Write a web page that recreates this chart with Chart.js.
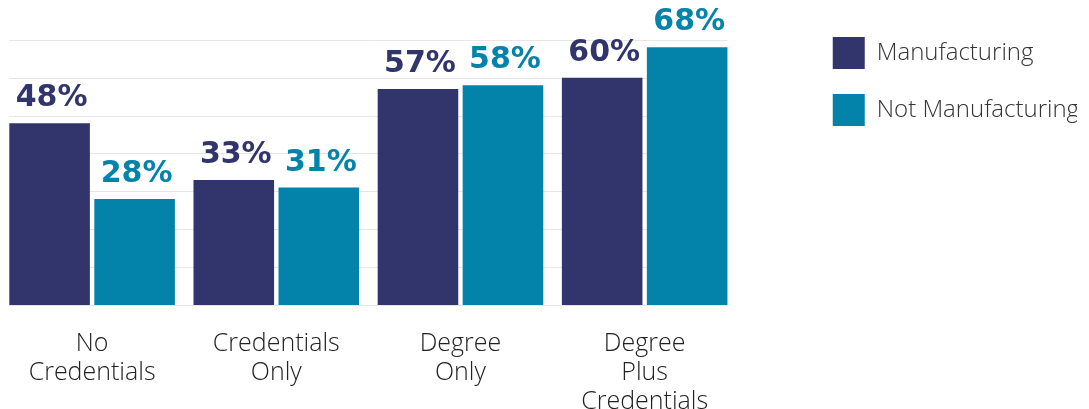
<!DOCTYPE html>
<html>
<head>
<meta charset="utf-8">
<script src="https://cdn.jsdelivr.net/npm/chart.js@4"></script>
<style>
    body { margin: 0; background: #fff; }
    #wrap { width: 1089px; height: 409px; }
</style>
</head>
<body>
<div id="wrap"><canvas id="chart"></canvas></div>
<script>
const categories = [['No', 'Credentials'], ['Credentials', 'Only'], ['Degree', 'Only'], ['Degree', 'Plus', 'Credentials']];
const manufacturing = [48, 33, 57, 60];
const notManufacturing = [28, 31, 58, 68];
const gridTicks = [0, 10, 20, 30, 40, 50, 60, 70];

const navy = '#31356b';
const teal = '#0383aa';

// faint gridlines, only as wide as the bars
const gridPlugin = {
    id: 'grid',
    beforeDatasetsDraw(chart) {
        const ctx = chart.ctx;
        const y = chart.scales.y;
        const first = chart.getDatasetMeta(0).data[0];
        const lastMeta = chart.getDatasetMeta(1).data;
        const last = lastMeta[lastMeta.length - 1];
        const x0 = first.x - first.width / 2;
        const x1 = last.x + last.width / 2;
        ctx.save();
        ctx.strokeStyle = '#e6e6e6';
        ctx.lineWidth = 1;
        gridTicks.forEach(v => {
            const py = Math.round(y.getPixelForValue(v)) + 0.5;
            ctx.beginPath();
            ctx.moveTo(x0, py);
            ctx.lineTo(x1, py);
            ctx.stroke();
        });
        ctx.restore();
    }
};

// value labels above the bars
const valuePlugin = {
    id: 'values',
    afterDatasetsDraw(chart) {
        const ctx = chart.ctx;
        ctx.save();
        ctx.font = 'bold 30px "DejaVu Sans"';
        ctx.textAlign = 'center';
        ctx.textBaseline = 'alphabetic';
        chart.data.datasets.forEach((ds, i) => {
            chart.getDatasetMeta(i).data.forEach((bar, j) => {
                ctx.fillStyle = ds.backgroundColor;
                ctx.fillText(ds.data[j] + '%', bar.x + 2, bar.y - 17);
            });
        });
        ctx.restore();
    }
};

function drawChart() {
    new Chart(document.getElementById('chart'), {
        type: 'bar',
        data: {
            labels: categories,
            datasets: [
                {
                    label: 'Manufacturing',
                    data: manufacturing,
                    backgroundColor: navy,
                    categoryPercentage: 0.923,
                    barPercentage: 0.948
                },
                {
                    label: 'Not Manufacturing',
                    data: notManufacturing,
                    backgroundColor: teal,
                    categoryPercentage: 0.923,
                    barPercentage: 0.948
                }
            ]
        },
        options: {
            responsive: true,
            maintainAspectRatio: false,
            animation: false,
            layout: { padding: { right: 12 } },
            plugins: {
                tooltip: { enabled: false },
                legend: {
                    position: 'right',
                    align: 'start',
                    title: {
                        display: true,
                        text: '',
                        padding: 0,
                        font: { size: 10, lineHeight: 1.2 }
                    },
                    labels: {
                        boxWidth: 32,
                        boxHeight: 32,
                        padding: 25,
                        color: '#333',
                        font: { family: '"Open Sans"', size: 24, weight: '300' }
                    }
                }
            },
            scales: {
                x: {
                    grid: { display: false, drawTicks: false },
                    border: { display: false },
                    ticks: {
                        padding: 24,
                        color: '#222',
                        font: { family: '"Open Sans"', size: 25, weight: '300', lineHeight: 1.16 }
                    },
                    afterFit(scale) { scale.height = 104; }
                },
                y: {
                    position: 'right',
                    min: 0,
                    max: 80.5,
                    grid: { display: false },
                    border: { display: false },
                    ticks: { display: false },
                    afterFit(scale) { scale.width = 71; }
                }
            }
        },
        plugins: [gridPlugin, valuePlugin]
    });
}

Promise.all([
    document.fonts.load('300 25px "Open Sans"'),
    document.fonts.load('300 24px "Open Sans"'),
    document.fonts.load('bold 30px "DejaVu Sans"')
]).then(drawChart, drawChart);
</script>
</body>
</html>
